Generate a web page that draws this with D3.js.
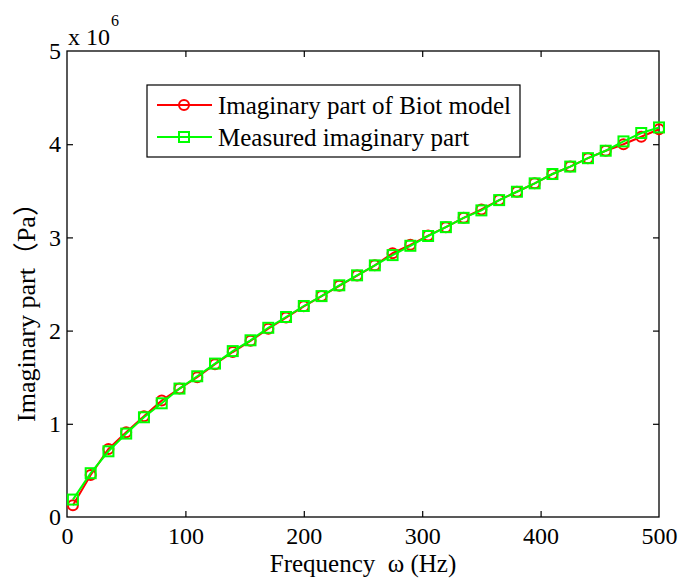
<!DOCTYPE html>
<html>
<head>
<meta charset="utf-8">
<script src="https://cdn.jsdelivr.net/npm/d3@7"></script>
<style>
  body { margin: 0; background: #fff; }
  svg text { font-family: "Liberation Serif", "Times New Roman", "Noto Sans CJK SC", serif; fill: #000; }
</style>
</head>
<body>
<svg id="chart" width="683" height="579"></svg>
<script>
// frequency (Hz)
const freq = [5, 20, 35, 50, 65, 80, 95, 110, 125, 140, 155, 170, 185, 200, 215, 230, 245,
              260, 275, 290, 305, 320, 335, 350, 365, 380, 395, 410, 425, 440, 455, 470, 485, 500];
// imaginary part, x 10^6 Pa
const biotModel = [0.125, 0.45, 0.73, 0.91, 1.08, 1.25, 1.378, 1.50, 1.64, 1.77, 1.89, 2.02, 2.14, 2.26, 2.37, 2.48, 2.59,
                   2.70, 2.83, 2.92, 3.02, 3.11, 3.21, 3.30, 3.40, 3.49, 3.58, 3.68, 3.76, 3.85, 3.93, 4.00, 4.08, 4.16];
const measured = [0.187, 0.47, 0.705, 0.895, 1.07, 1.22, 1.378, 1.51, 1.646, 1.78, 1.896, 2.03, 2.146, 2.264, 2.37, 2.486, 2.593,
                  2.70, 2.81, 2.91, 3.015, 3.11, 3.21, 3.29, 3.40, 3.49, 3.58, 3.68, 3.76, 3.85, 3.93, 4.03, 4.12, 4.18];
const xTicks = [0, 100, 200, 300, 400, 500];
const yTicks = [0, 1, 2, 3, 4, 5];
const seriesNames = ["Imaginary part of Biot model", "Measured imaginary part"];

const margin = {left: 67, right: 24, top: 51, bottom: 62};
const TOTAL_WIDTH = 683, TOTAL_HEIGHT = 579;
const width = TOTAL_WIDTH - margin.left - margin.right;
const height = TOTAL_HEIGHT - margin.top - margin.bottom;
const serif = '"Liberation Serif", "Times New Roman", serif';

const xScale = d3.scaleLinear().domain([0, 500]).range([0, width]);
const yScale = d3.scaleLinear().domain([0, 5]).range([height, 0]);

const svg = d3.select("#chart");
const g = svg.append("g").attr("transform", `translate(${margin.left}, ${margin.top})`);

// frame + inward ticks on all sides
g.append("rect").attr("width", width).attr("height", height)
  .attr("fill", "none").attr("stroke", "#000").attr("stroke-width", 1.3);

const tickLen = 6;
const xAxis = d3.axisBottom(xScale).tickValues(xTicks).tickSize(-tickLen).tickPadding(10).tickFormat(d3.format("d"));
const yAxis = d3.axisLeft(yScale).tickValues(yTicks).tickSize(-tickLen).tickPadding(6).tickFormat(d3.format("d"));

const xg = g.append("g").attr("transform", `translate(0, ${height})`).call(xAxis);
const yg = g.append("g").call(yAxis);
g.append("g").call(d3.axisTop(xScale).tickValues(xTicks).tickSize(-tickLen).tickFormat(""));
g.append("g").attr("transform", `translate(${width}, 0)`).call(d3.axisRight(yScale).tickValues(yTicks).tickSize(-tickLen).tickFormat(""));

g.selectAll(".domain").remove();
g.selectAll(".tick line").attr("stroke", "#000").attr("stroke-width", 1.2);
g.selectAll(".tick").filter(d => d === 0 || d === 500 || d === 5).select("line").attr("stroke-opacity", 0);
xg.attr("font-family", null);
yg.attr("font-family", null);
xg.selectAll("text").attr("font-size", 24).attr("dy", "0.71em").style("font-family", serif);
yg.selectAll("text").attr("font-size", 24).style("font-family", serif);

// multiplier
svg.append("text").attr("x", 68).attr("y", 45).attr("font-size", 24).text("x 10");
svg.append("text").attr("x", 111).attr("y", 26).attr("font-size", 16).text("6");

// lines
const lineOf = vals => d3.line().x((d, i) => xScale(freq[i])).y(d => yScale(d))(vals);

g.append("path").attr("d", lineOf(biotModel))
  .attr("fill", "none").attr("stroke", "#ff0000").attr("stroke-width", 2);
g.selectAll(".mk-red").data(biotModel).enter().append("circle")
  .attr("class", "mk-red")
  .attr("cx", (d, i) => xScale(freq[i])).attr("cy", d => yScale(d)).attr("r", 5)
  .attr("fill", "none").attr("stroke", "#ff0000").attr("stroke-width", 2);

const sq = 10;
g.append("path").attr("d", lineOf(measured))
  .attr("fill", "none").attr("stroke", "#00ff00").attr("stroke-width", 2);
g.selectAll(".mk-green").data(measured).enter().append("rect")
  .attr("class", "mk-green")
  .attr("x", (d, i) => xScale(freq[i]) - sq / 2).attr("y", d => yScale(d) - sq / 2)
  .attr("width", sq).attr("height", sq)
  .attr("fill", "none").attr("stroke", "#00ff00").attr("stroke-width", 2);

// axis labels
svg.append("text").attr("x", 363).attr("y", 572).attr("text-anchor", "middle")
  .attr("font-size", 25).attr("xml:space", "preserve").text("Frequency  ω (Hz)");
svg.append("text").attr("transform", "translate(35, 306) rotate(-90)").attr("text-anchor", "middle")
  .attr("font-size", 26).text("Imaginary part（Pa）");

// legend
const legend = svg.append("g").attr("transform", "translate(147, 85)");
legend.append("rect").attr("width", 373).attr("height", 72)
  .attr("fill", "#fff").attr("stroke", "#000").attr("stroke-width", 1.2);
const colors = ["#ff0000", "#00ff00"];
seriesNames.forEach((name, i) => {
  const cy = 20 + i * 32;
  legend.append("line").attr("x1", 10).attr("x2", 65).attr("y1", cy).attr("y2", cy)
    .attr("stroke", colors[i]).attr("stroke-width", 2);
  if (i === 0) {
    legend.append("circle").attr("cx", 37).attr("cy", cy).attr("r", 5)
      .attr("fill", "none").attr("stroke", colors[i]).attr("stroke-width", 2);
  } else {
    legend.append("rect").attr("x", 37 - 5).attr("y", cy - 5).attr("width", 10).attr("height", 10)
      .attr("fill", "none").attr("stroke", colors[i]).attr("stroke-width", 2);
  }
  legend.append("text").attr("x", 71).attr("y", cy).attr("dy", "0.35em")
    .attr("font-size", 25).text(name);
});
</script>
</body>
</html>
